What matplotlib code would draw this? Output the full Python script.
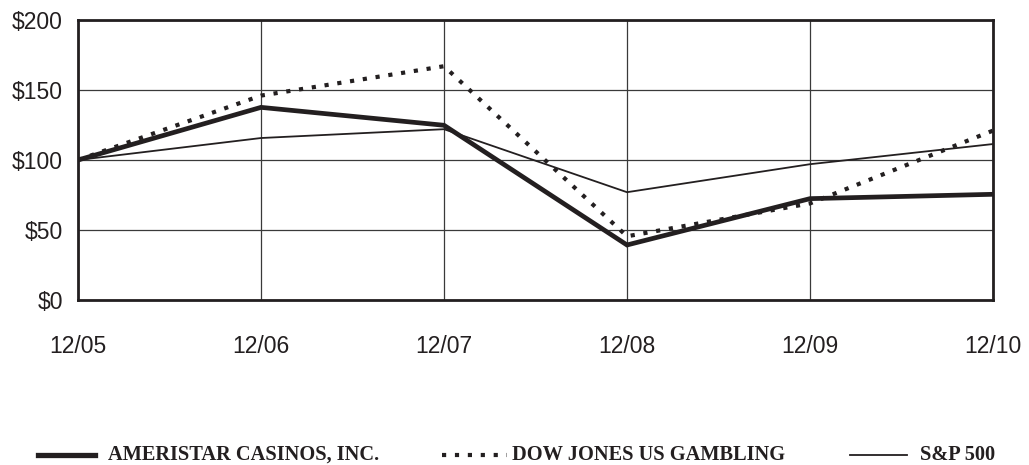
import matplotlib
matplotlib.use("Agg")
import matplotlib.pyplot as plt
from matplotlib.lines import Line2D

years = ["12/05", "12/06", "12/07", "12/08", "12/09", "12/10"]
ameristar = [100, 137.6, 124.8, 39.3, 72.4, 75.5]
dow_gambling = [100, 146, 167, 45.5, 69, 121]
sp500 = [100, 115.7, 122, 77, 97, 111.4]
yticks = [0, 50, 100, 150, 200]
ytick_labels = ["$0", "$50", "$100", "$150", "$200"]
legend_labels = ["AMERISTAR CASINOS, INC.", "DOW JONES US GAMBLING", "S&P 500"]

W, H = 1029, 465
fig = plt.figure(figsize=(W / 100, H / 100), dpi=100)
ax = fig.add_axes([78 / W, 1 - 300 / H, (993 - 78) / W, (300 - 20) / H])

x = list(range(len(years)))
ink = "#231f20"
dots = (0, (1.0, 2.1))

ax.plot(x, sp500, color=ink, lw=1.3, solid_capstyle="butt", zorder=3)
ax.plot(x, dow_gambling, color=ink, lw=3.0, linestyle=dots,
        dash_capstyle="butt", zorder=4)
ax.plot(x, ameristar, color=ink, lw=3.4, solid_joinstyle="miter", zorder=5)

ax.set_xlim(0, len(years) - 1)
ax.set_ylim(0, 200)
ax.set_xticks(x)
ax.set_xticklabels(years)
ax.set_yticks(yticks)
ax.set_yticklabels(ytick_labels)
ax.grid(True, color="#3a3a3a", lw=0.9)
ax.set_axisbelow(True)
for s in ax.spines.values():
    s.set_linewidth(2.0)
    s.set_color(ink)
ax.tick_params(axis="both", length=0, labelsize=16.5, colors=ink)
ax.tick_params(axis="x", pad=25)
ax.tick_params(axis="y", pad=11)
for lab in ax.get_xticklabels() + ax.get_yticklabels():
    lab.set_fontfamily("Liberation Sans")

# legend (manual, figure pixel layout)
ly = 1 - 455 / H
legend_items = [
    (38, 95, 108, dict(lw=3.8, linestyle="-")),
    (442, 507, 512, dict(lw=3.0, linestyle=dots, dash_capstyle="butt")),
    (850, 907, 920, dict(lw=1.3, linestyle="-")),
]
for (x0, x1, tx, style), label in zip(legend_items, legend_labels):
    fig.add_artist(Line2D([x0 / W, x1 / W], [ly, ly], color=ink,
                          transform=fig.transFigure, **style))
    fig.text(tx / W, ly, label, fontfamily="Liberation Serif", fontweight="bold",
             fontsize=14.7, color=ink, va="center", ha="left")

fig.savefig("out.png", dpi=100, facecolor="white")
